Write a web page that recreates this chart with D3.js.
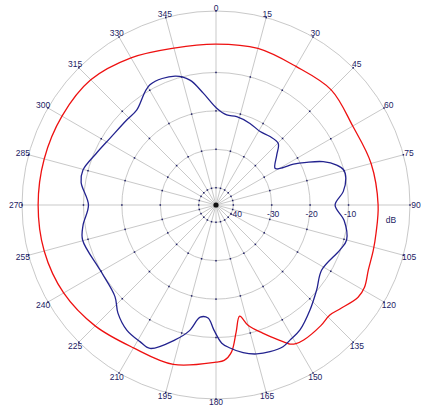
<!DOCTYPE html>
<html><head><meta charset="utf-8">
<script src="https://cdn.jsdelivr.net/npm/d3@7/dist/d3.min.js"></script>
<style>html,body{margin:0;padding:0;background:#fff;}svg{display:block;}</style>
</head><body>
<svg id="chart" width="427" height="412"></svg>
<script>
// ---- data ----
const angleTicks = [0,15,30,45,60,75,90,105,120,135,150,165,180,195,210,225,240,255,270,285,300,315,330,345];
const ringValues = [-40,-30,-20,-10];
const ringLabels = ["-40","-30","-20","-10"];
const unitLabel = "dB";

const redAngles = [0,15,30,45,60,75,90,100,106,113,119,123,130,134,139,147,150,152,155,160,165,168,171,174,177,180,195,210,225,240,255,270,285,300,315,330,345];
const redDb     = [-2.6,-2.3,-2.85,-2.1,-3.4,-2.7,-2.3,-2.2,-1.9,-1.4,-0.3,-0.4,-2.4,-3.3,-2.9,-2.6,-2.85,-3.5,-5.7,-9,-12,-14.9,-11,-6,-4,-3.6,-1.55,-1.55,0,1.3,1.8,1.8,1.8,1.8,1.6,-0.25,-2.2];

const blueAngles = [0.4,6.8,13.2,22.6,31,38.3,45.3,50.5,58.1,60.2,62.2,64.8,68,71.7,74.7,78.4,84,90,96.9,105,110,121.6,130.2,138.2,146.1,151.3,154.7,159.8,164.7,169.6,174.4,177.6,181,184,188,192,196.9,204.7,209.1,215.5,222.2,227.8,240.7,255.3,261.4,270,279.5,284.7,293,302.3,313.6,320.1,331.2,342.4,348.2,353.5];
const blueDb     = [-19.3,-20.9,-20.9,-21.5,-22.2,-21.8,-21.7,-24.0,-26.4,-25.3,-21.7,-18.4,-14.4,-11.4,-10.0,-10.0,-11.2,-13.5,-10.9,-9.3,-10.2,-12.2,-10.2,-7.8,-5.3,-4.4,-3.7,-3.8,-4.3,-5.4,-7.1,-8.5,-12,-15,-15,-11,-7.8,-3.4,-3.8,-4.5,-6.5,-9.0,-9.9,-8.6,-9.5,-11.3,-8.9,-8.7,-10.5,-11.9,-12.4,-12.3,-8.8,-9.3,-11.3,-15.2];

// ---- layout ----
const cx = 216, cy = 205, R = 194;
const svg = d3.select("#chart");
const r = d3.scaleLinear().domain([-44.5, 6]).range([0, R]);
const rad = d => d * Math.PI / 180;
const g = svg.append("g").attr("transform", `translate(${cx},${cy})`);

const gridColor = "#c9c9c9", navy = "#1c1c64";

// rings
g.selectAll("circle.ring").data(ringValues.concat([6])).enter().append("circle")
  .attr("r", d => r(d)).attr("fill", "none").attr("stroke", gridColor).attr("stroke-width", 1);
// spokes
g.selectAll("line.spoke").data(angleTicks).enter().append("line")
  .attr("x1", 0).attr("y1", 0)
  .attr("x2", d => R * Math.sin(rad(d))).attr("y2", d => -R * Math.cos(rad(d)))
  .attr("stroke", gridColor).attr("stroke-width", 1);
// intersection dots
const inter = [];
angleTicks.forEach(a => ringValues.concat([6]).forEach(v => inter.push({a, v})));
g.selectAll("rect.dot").data(inter).enter().append("rect")
  .attr("x", d => r(d.v) * Math.sin(rad(d.a)) - 0.75)
  .attr("y", d => -r(d.v) * Math.cos(rad(d.a)) - 0.75)
  .attr("width", 1.5).attr("height", 1.5).attr("fill", navy);

// curves
const line = d3.lineRadial().curve(d3.curveCatmullRomClosed.alpha(0.5));
const redPts = redAngles.map((a, i) => [rad(a), r(redDb[i])]);
const bluePts = blueAngles.map((a, i) => [rad(a), r(blueDb[i])]);
g.append("path").attr("d", line(redPts)).attr("fill", "none").attr("stroke", "#ee1111").attr("stroke-width", 1.3);
g.append("path").attr("d", line(bluePts)).attr("fill", "none").attr("stroke", "#23238f").attr("stroke-width", 1.3);

// center blob
g.append("circle").attr("r", 2.6).attr("fill", "#111");

// angle labels
g.selectAll("text.ang").data(angleTicks).enter().append("text")
  .attr("x", d => (R + 3 + 3 * Math.abs(Math.sin(rad(d)))) * Math.sin(rad(d)))
  .attr("y", d => -(R + 3 + 3 * Math.abs(Math.sin(rad(d)))) * Math.cos(rad(d)))
  .attr("dy", "0.35em").attr("text-anchor", "middle")
  .attr("font-family", "Arial, 'Liberation Sans', sans-serif").attr("font-size", 8.5)
  .attr("fill", navy).text(d => d);

// ring labels
g.selectAll("text.ringlab").data(ringValues).enter().append("text")
  .attr("x", (d, i) => r(d) + (i === 0 ? 2.5 : 1.5)).attr("y", 9).attr("dy", "0.35em")
  .attr("text-anchor", "middle")
  .attr("font-family", "Arial, 'Liberation Sans', sans-serif").attr("font-size", 8.5)
  .attr("fill", navy).text((d, i) => ringLabels[i]);

g.append("text").attr("x", R - 19).attr("y", 15.5).attr("dy", "0.35em").attr("text-anchor", "middle")
  .attr("font-family", "Arial, 'Liberation Sans', sans-serif").attr("font-size", 8.5)
  .attr("fill", navy).text(unitLabel);
</script>
</body></html>
